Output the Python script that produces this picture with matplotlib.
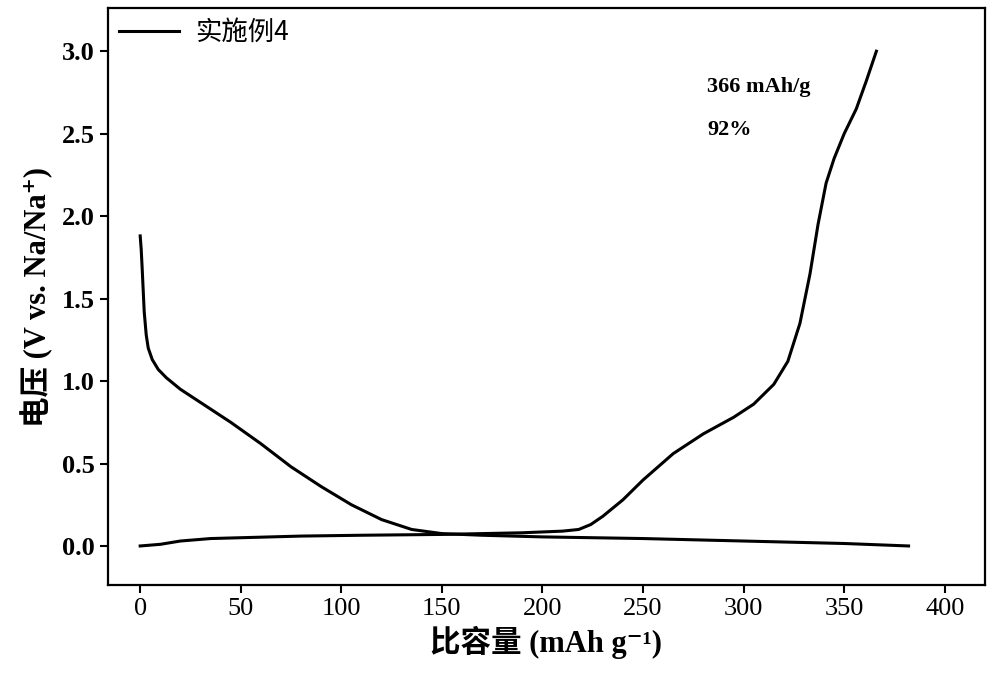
import matplotlib
matplotlib.use("Agg")
import matplotlib.pyplot as plt
import numpy as np

# discharge curve (starts at 1.88 V)
dis_x = [0, 0.5, 1, 1.5, 2, 3, 4, 6, 9, 13, 20, 30, 45, 60, 75, 90, 105, 120, 135, 150, 170, 200, 250, 300, 350, 382]
dis_y = [1.88, 1.8, 1.68, 1.55, 1.42, 1.28, 1.2, 1.13, 1.07, 1.02, 0.95, 0.87, 0.75, 0.62, 0.48, 0.36, 0.25, 0.16, 0.1, 0.075, 0.065, 0.055, 0.045, 0.03, 0.015, 0.0]
# charge curve (starts at 0 V)
chg_x = [0, 10, 20, 35, 50, 80, 110, 150, 190, 210, 218, 224, 230, 240, 250, 265, 280, 295, 305, 315, 322, 328, 333, 337, 341, 345, 350, 356, 361, 366]
chg_y = [0.0, 0.01, 0.03, 0.045, 0.05, 0.06, 0.065, 0.07, 0.08, 0.09, 0.1, 0.13, 0.18, 0.28, 0.4, 0.56, 0.68, 0.78, 0.86, 0.98, 1.12, 1.35, 1.65, 1.95, 2.2, 2.35, 2.5, 2.65, 2.82, 3.0]

xticks = [0, 50, 100, 150, 200, 250, 300, 350, 400]
yticks = [0.0, 0.5, 1.0, 1.5, 2.0, 2.5, 3.0]

serif = "Liberation Serif"
cjk = "Noto Sans CJK SC"
fam = [serif, cjk, "DejaVu Serif"]

fig = plt.figure(figsize=(10, 6.93), dpi=100)
ax = fig.add_axes([0.108, 0.156, 0.877, 0.832])
ax.plot(dis_x, dis_y, color="black", lw=2.2, label="实施例4")
ax.plot(chg_x, chg_y, color="black", lw=2.2)
ax.set_xlim(-16, 420)
ax.set_ylim(-0.236, 3.26)
ax.set_xticks(xticks)
ax.set_yticks(yticks)
ax.set_xticklabels([str(t) for t in xticks], fontfamily=serif, fontsize=19)
ax.set_yticklabels([f"{t:.1f}" for t in yticks], fontfamily=serif, fontsize=19, fontweight="bold")
for s in ax.spines.values():
    s.set_linewidth(1.6)
ax.tick_params(direction="out", width=1.5, length=6)
ax.set_xlabel("比容量 (mAh g⁻¹)", fontfamily=fam, fontsize=22, fontweight="bold", labelpad=4)
ax.set_ylabel("电压 (V vs. Na/Na⁺)", fontfamily=fam, fontsize=22, fontweight="bold", labelpad=6)
ax.text(0.683, 0.855, "366 mAh/g", transform=ax.transAxes, fontfamily=serif, fontsize=16, fontweight="bold")
ax.text(0.683, 0.78, "92%", transform=ax.transAxes, fontfamily=serif, fontsize=16, fontweight="bold")
ax.legend(loc="upper left", frameon=False, prop={"family": [cjk, serif], "size": 19},
          borderaxespad=0.0, handlelength=2.3, handletextpad=0.6)
fig.savefig("out.png", dpi=100)
